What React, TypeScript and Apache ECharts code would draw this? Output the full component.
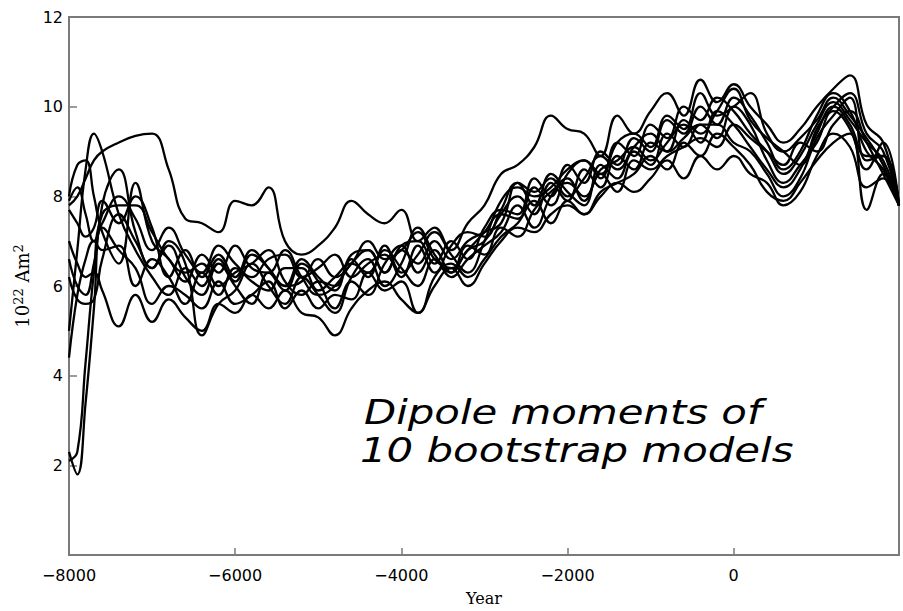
import React, { useEffect, useRef } from "react";
import * as echarts from "echarts";

const years = [
  -8000, -7900, -7800, -7700, -7600, -7400, -7200, -7000, -6800, -6600, -6400, -6200, -6000,
  -5800, -5600, -5400, -5200, -5000, -4800, -4600, -4400, -4200, -4000, -3800, -3600, -3400,
  -3200, -3000, -2800, -2600, -2400, -2200, -2000, -1800, -1600, -1400, -1200, -1000, -800,
  -600, -400, -200, 0, 200, 400, 600, 800, 1000, 1200, 1400, 1600, 1800, 1990,
];

const model1 = [7.8, 8.0, 8.4, 8.8, 9.0, 9.2, 9.35, 9.4, 8.6, 7.5, 7.4, 7.2, 7.9, 7.8, 8.2, 7.0, 6.7, 6.9, 7.3, 7.9, 7.6, 7.4, 7.7, 7.0, 7.3, 6.8, 7.4, 7.8, 8.5, 8.7, 9.1, 9.8, 9.5, 9.4, 8.9, 9.8, 9.4, 9.9, 10.3, 9.8, 10.6, 10.1, 10.5, 10.0, 9.6, 9.2, 9.5, 10.0, 10.4, 10.7, 9.6, 9.2, 7.8];
const model2 = [5.0, 6.8, 8.6, 9.4, 9.0, 7.6, 6.8, 6.2, 5.8, 6.4, 6.0, 6.6, 6.1, 6.7, 6.4, 6.0, 6.1, 6.6, 6.2, 6.5, 7.0, 6.6, 6.8, 7.2, 6.6, 6.4, 6.8, 7.2, 7.6, 7.5, 8.2, 7.8, 8.5, 8.8, 8.4, 9.2, 8.9, 9.6, 9.3, 10.0, 9.7, 10.2, 9.9, 9.4, 9.0, 8.5, 8.9, 9.6, 10.1, 9.7, 9.2, 8.8, 7.8];
const model3 = [8.0, 8.7, 8.8, 8.0, 7.2, 6.5, 8.3, 7.0, 6.6, 6.1, 6.7, 6.3, 6.9, 6.4, 6.3, 6.8, 6.2, 5.8, 6.0, 6.5, 6.8, 6.3, 6.9, 7.0, 6.5, 7.0, 6.6, 7.3, 7.7, 7.6, 8.4, 8.0, 8.7, 8.3, 9.0, 8.7, 9.3, 9.0, 9.7, 9.4, 10.0, 9.6, 10.2, 9.8, 9.2, 8.6, 9.0, 9.8, 10.3, 9.9, 9.0, 8.6, 7.8];
const model4 = [2.3, 1.8, 3.4, 5.5, 7.8, 8.6, 7.2, 6.4, 6.9, 6.2, 5.8, 6.5, 6.0, 5.6, 6.3, 5.9, 6.5, 6.1, 5.5, 6.1, 5.8, 6.5, 6.9, 6.3, 6.8, 6.3, 6.8, 7.0, 7.6, 8.0, 7.6, 8.3, 7.9, 8.6, 8.2, 8.9, 8.6, 9.2, 9.0, 9.3, 9.6, 9.6, 9.2, 9.0, 8.5, 8.0, 8.4, 9.3, 9.8, 10.2, 8.8, 8.9, 7.8];
const model5 = [2.1, 2.3, 4.3, 6.3, 7.6, 7.8, 7.8, 7.2, 6.6, 6.3, 6.5, 6.0, 6.3, 6.5, 6.8, 6.1, 5.8, 6.1, 6.0, 6.7, 6.8, 6.3, 6.8, 6.5, 7.0, 6.6, 7.0, 7.2, 7.4, 8.3, 7.8, 8.5, 8.1, 7.8, 8.7, 8.4, 9.0, 8.7, 9.4, 9.1, 9.6, 9.3, 10.0, 9.6, 8.8, 8.3, 8.7, 9.2, 9.9, 9.5, 8.6, 9.2, 7.8];
const model6 = [4.4, 5.8, 6.6, 7.0, 6.8, 6.9, 6.0, 6.6, 6.2, 5.6, 6.3, 5.8, 6.4, 6.1, 5.9, 6.4, 6.4, 5.9, 6.2, 6.5, 6.3, 6.8, 6.4, 6.0, 6.6, 6.2, 6.6, 6.9, 7.2, 7.8, 7.3, 8.0, 8.4, 7.9, 8.5, 8.1, 8.8, 8.6, 8.9, 9.1, 9.3, 9.1, 9.6, 9.3, 9.0, 8.7, 9.2, 9.0, 9.6, 9.9, 9.2, 8.5, 7.8];
const model7 = [7.0, 6.5, 6.2, 6.3, 5.9, 5.1, 5.8, 5.2, 5.7, 5.3, 5.0, 5.6, 5.4, 5.8, 5.5, 5.9, 5.4, 5.3, 4.9, 5.5, 5.9, 6.1, 5.7, 5.4, 6.2, 6.5, 6.2, 6.6, 7.1, 7.4, 7.9, 7.4, 7.9, 7.6, 8.0, 8.3, 8.1, 8.4, 8.8, 8.4, 8.9, 8.6, 8.9, 8.5, 8.3, 7.8, 8.1, 8.9, 9.4, 9.1, 8.2, 8.4, 7.8];
const model8 = [6.2, 5.7, 5.6, 5.7, 6.6, 7.6, 7.0, 6.4, 7.0, 6.5, 4.9, 5.6, 5.9, 6.5, 6.0, 5.6, 6.2, 5.8, 5.4, 6.2, 6.6, 6.0, 6.5, 7.3, 6.7, 6.3, 6.9, 6.7, 7.3, 7.1, 7.7, 8.1, 8.3, 8.0, 8.6, 8.8, 9.1, 8.8, 9.2, 9.6, 9.2, 9.9, 9.6, 9.1, 8.6, 8.2, 8.6, 9.4, 10.0, 9.6, 8.9, 8.9, 7.8];
const model9 = [7.7, 7.4, 7.1, 7.3, 7.9, 7.4, 8.0, 7.3, 6.2, 6.8, 6.2, 6.7, 6.2, 6.8, 6.4, 6.0, 6.6, 6.2, 5.9, 6.6, 6.2, 6.9, 6.3, 6.7, 7.2, 6.7, 6.3, 7.0, 7.9, 8.2, 8.0, 8.2, 8.6, 8.8, 8.5, 9.2, 9.4, 9.1, 9.8, 9.5, 10.3, 9.8, 10.0, 10.3, 9.4, 9.0, 9.3, 9.7, 10.2, 9.8, 9.3, 8.7, 7.8];
const model10 = [7.9, 8.2, 7.6, 7.0, 7.4, 8.0, 7.5, 6.8, 7.3, 6.7, 6.3, 6.9, 6.5, 6.2, 6.6, 6.7, 6.2, 6.4, 6.7, 6.2, 6.5, 6.7, 6.2, 6.9, 6.3, 6.9, 7.2, 7.1, 7.7, 8.3, 8.1, 8.4, 8.0, 8.4, 8.9, 8.6, 9.1, 9.4, 9.0, 9.7, 9.4, 9.9, 10.4, 9.7, 9.3, 9.0, 8.7, 9.5, 10.0, 10.3, 9.4, 9.0, 7.8];
const model11 = [6.6, 6.0, 5.8, 6.5, 7.3, 6.8, 6.4, 5.6, 6.0, 5.8, 5.5, 6.1, 5.6, 5.8, 6.1, 5.5, 5.9, 5.5, 5.8, 5.7, 6.3, 5.9, 6.1, 5.4, 6.0, 6.4, 6.0, 6.5, 7.0, 7.3, 7.2, 7.6, 7.8, 7.6, 8.1, 8.3, 8.5, 8.9, 8.6, 9.2, 8.9, 9.4, 9.1, 8.7, 8.1, 7.9, 8.3, 8.8, 9.2, 9.4, 7.7, 8.5, 7.8];

const models = [model1, model2, model3, model4, model5, model6, model7, model8, model9, model10, model11];

const xTicks = [-8000, -6000, -4000, -2000, 0];
const yTicks = [2, 4, 6, 8, 10, 12];

const annotationLines = ["Dipole moments of", "10 bootstrap models"];

export default function App() {
  const ref = useRef<HTMLDivElement>(null);
  useEffect(() => {
    if (!ref.current) return;
    const chart = echarts.init(ref.current, null, { renderer: "svg" });
    const axisColor = "#7a7a7a";
    chart.setOption({
      animation: false,
      backgroundColor: "#ffffff",
      grid: {
        left: 69,
        top: 17,
        right: 4,
        bottom: 47,
        show: true,
        borderColor: axisColor,
        borderWidth: 2,
        backgroundColor: "transparent",
      },
      xAxis: {
        type: "value",
        min: -8000,
        max: 1990,
        interval: 2000,
        name: "Year",
        nameLocation: "middle",
        nameGap: 35,
        nameTextStyle: { fontFamily: "DejaVu Serif", fontSize: 16, color: "#000" },
        axisLine: { show: true, onZero: false, lineStyle: { color: axisColor, width: 2 } },
        axisTick: { show: true, inside: true, length: 7, lineStyle: { color: axisColor, width: 1.5 } },
        splitLine: { show: false },
        axisLabel: {
          showMaxLabel: false,
          margin: 12,
          fontFamily: "DejaVu Sans",
          fontSize: 16,
          color: "#000",
          formatter: (v: number) => (xTicks.includes(v) ? String(v).replace("-", "\u2212") : ""),
        },
      },
      yAxis: {
        type: "value",
        min: 0,
        max: 12,
        interval: 2,
        name: "10{sup|22} Am{sup|2}",
        nameLocation: "middle",
        nameGap: 27,
        nameTextStyle: {
          fontFamily: "DejaVu Serif",
          fontSize: 18,
          color: "#000",
          rich: {
            sup: { fontFamily: "DejaVu Serif", fontSize: 13, color: "#000", verticalAlign: "top", padding: [0, 0, 8, 0] },
          },
        },
        axisLine: { show: true, onZero: false, lineStyle: { color: axisColor, width: 2 } },
        axisTick: { show: true, inside: true, length: 8, lineStyle: { color: axisColor, width: 1.5 } },
        splitLine: { show: false },
        axisLabel: {
          showMinLabel: false,
          margin: 6,
          fontFamily: "DejaVu Sans",
          fontSize: 16,
          color: "#000",
          formatter: (v: number) => (yTicks.includes(v) ? String(v) : ""),
        },
      },
      graphic: [
        {
          type: "text",
          x: 364,
          y: 395,
          scaleX: 1.23,
          style: {
            text: annotationLines[0],
            fontFamily: "DejaVu Sans",
            fontStyle: "italic",
            fontSize: 34,
            fill: "#000",
            verticalAlign: "top",
            align: "left",
          },
        },
        {
          type: "text",
          x: 360,
          y: 433,
          scaleX: 1.23,
          style: {
            text: annotationLines[1],
            fontFamily: "DejaVu Sans",
            fontStyle: "italic",
            fontSize: 34,
            fill: "#000",
            verticalAlign: "top",
            align: "left",
          },
        },
      ],
      series: models.map((vals, k) => ({
        name: "Model " + (k + 1),
        type: "line",
        data: years.map((yr, i) => [yr, vals[i]]),
        smooth: 0.45,
        showSymbol: false,
        symbol: "none",
        clip: true,
        lineStyle: { color: "#000", width: 2.3 },
      })),
    });
    return () => chart.dispose();
  }, []);
  return (
    <div
      ref={ref}
      style={{ position: "fixed", left: 0, top: 0, width: 903, height: 611, background: "#fff" }}
    />
  );
}
